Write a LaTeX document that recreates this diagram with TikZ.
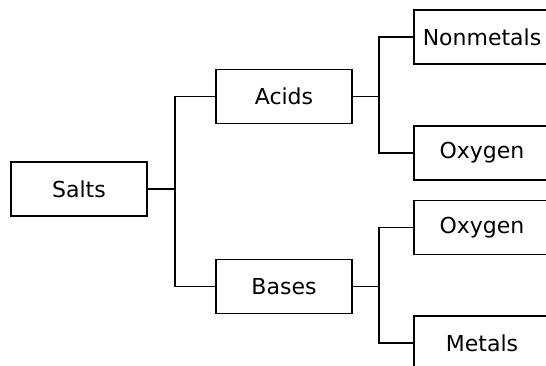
\documentclass[tikz,border=0pt]{standalone}
\usepackage{fontspec}
\setmainfont{DejaVu Sans}
\begin{document}
\begin{tikzpicture}[x=1pt,y=-1pt,
  box/.style={draw,line width=1.3pt,minimum width=136pt,minimum height=54pt,inner sep=0pt,font=\fontsize{22}{26}\selectfont},
  conn/.style={line width=1.3pt}]
\useasboundingbox (0,0) rectangle (546,366);
\clip (0,0) rectangle (546,366);
\node[box] (salts) at (79,189) {Salts};
\node[box] (acids) at (284,96.5) {Acids};
\node[box] (bases) at (284,286.5) {Bases};
\node[box] (nonmetals) at (482,37) {Nonmetals};
\node[box] (oxy1) at (482,153) {Oxygen};
\node[box] (oxy2) at (482,227.5) {Oxygen};
\node[box] (metals) at (482,343) {Metals};
\coordinate (j1) at (175,189);
\coordinate (j2) at (379,96.5);
\coordinate (j3) at (379,286.5);
\draw[conn] (salts.east) -- (j1);
\draw[conn] (acids.west) -| (j1) |- (bases.west);
\draw[conn] (acids.east) -- (j2);
\draw[conn] (nonmetals.west) -| (j2) |- (oxy1.west);
\draw[conn] (bases.east) -- (j3);
\draw[conn] (oxy2.west) -| (j3) |- (metals.west);
\end{tikzpicture}
\end{document}
